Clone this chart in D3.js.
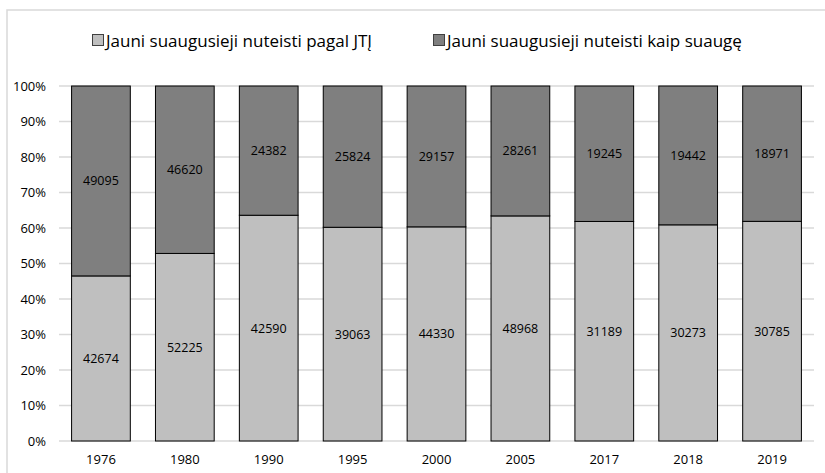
<!DOCTYPE html>
<html><head><meta charset="utf-8">
<script src="https://cdn.jsdelivr.net/npm/d3@7"></script>
<style>body{margin:0;background:#fff}svg{display:block}text{font-family:"Open Sans","Liberation Sans",sans-serif;fill:#000}</style>
</head><body><svg id="c" width="825" height="473"></svg>
<script>
const years = ["1976","1980","1990","1995","2000","2005","2017","2018","2019"];
const jtj = [42674,52225,42590,39063,44330,48968,31189,30273,30785];
const adult = [49095,46620,24382,25824,29157,28261,19245,19442,18971];
const seriesNames = ["Jauni suaugusieji nuteisti pagal JTĮ","Jauni suaugusieji nuteisti kaip suaugę"];
const yTicks = [0,0.1,0.2,0.3,0.4,0.5,0.6,0.7,0.8,0.9,1];
const colors = ["#bfbfbf","#7f7f7f"];

const svg = d3.select("#c");
svg.append("rect").attr("x",7).attr("y",10).attr("width",830).attr("height",480)
  .attr("fill","#fff").attr("stroke","#d9d9d9").attr("stroke-width",1.5);

const rows = years.map((y,i)=>({year:y, a:jtj[i], b:adult[i]}));
const stack = d3.stack().keys(["a","b"]).offset(d3.stackOffsetExpand)(rows);

const x = d3.scaleBand().domain(years).range([59,814]).paddingInner(0.3).paddingOuter(0.15);
const y = d3.scaleLinear().domain([0,1]).range([441,86]);

const g = svg.append("g");
g.selectAll("line.grid").data(yTicks).join("line")
  .attr("x1",59).attr("x2",814).attr("y1",d=>y(d)).attr("y2",d=>y(d))
  .attr("stroke","#d9d9d9").attr("stroke-width",1.5);

const yAxis = svg.append("g").attr("transform","translate(59,0)")
  .call(d3.axisLeft(y).tickValues(yTicks).tickFormat(d3.format(".0%")).tickSize(0).tickPadding(13));
yAxis.select(".domain").remove();
yAxis.selectAll("text").attr("font-size",13);

const xAxis = svg.append("g").attr("transform","translate(0,441)")
  .call(d3.axisBottom(x).tickSize(0).tickPadding(14));
xAxis.select(".domain").remove();
xAxis.selectAll("text").attr("font-size",13);

stack.forEach((s,si)=>{
  const vals = si===0 ? jtj : adult;
  g.selectAll("rect.s"+si).data(s).join("rect")
    .attr("x",d=>x(d.data.year)).attr("width",x.bandwidth())
    .attr("y",d=>y(d[1])).attr("height",d=>y(d[0])-y(d[1]))
    .attr("fill",colors[si]).attr("stroke","#000").attr("stroke-width",1);
  g.selectAll("text.s"+si).data(s).join("text")
    .attr("x",d=>x(d.data.year)+x.bandwidth()/2).attr("y",d=>(y(d[0])+y(d[1]))/2)
    .attr("text-anchor","middle").attr("dominant-baseline","central")
    .attr("font-size",12.5).text((d,i)=>vals[i]);
});

// legend
const leg = [{x:92},{x:433}];
leg.forEach((l,i)=>{
  svg.append("rect").attr("x",l.x+0.5).attr("y",34.5).attr("width",11).attr("height",11)
    .attr("fill",colors[i]).attr("stroke","#404040").attr("stroke-width",1);
  svg.append("text").attr("x",l.x+14).attr("y",40).attr("dominant-baseline","central")
    .attr("font-size",17).text(seriesNames[i]);
});
</script></body></html>
